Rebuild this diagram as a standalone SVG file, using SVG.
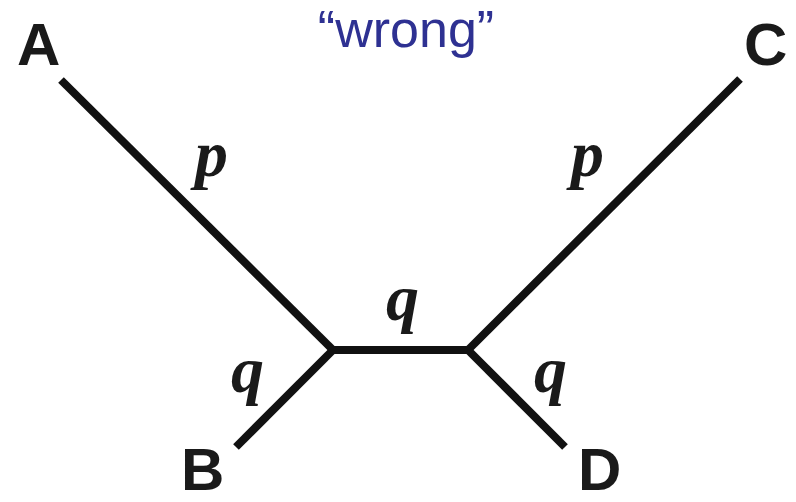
<svg xmlns="http://www.w3.org/2000/svg" width="796" height="502" viewBox="0 0 796 502">
<style>
.node{font-family:"Liberation Sans",Arial,sans-serif;font-weight:bold;font-size:60px;fill:#1a1a1a}
.lbl{font-family:"Liberation Serif","Times New Roman",serif;font-weight:bold;font-style:italic;font-size:66px;fill:#1a1a1a}
.edge{stroke:#111;stroke-width:8;fill:none;stroke-linecap:butt}
</style>
<rect width="796" height="502" fill="#fff"/>
<text x="406" y="47" text-anchor="middle" font-family="Liberation Sans,Arial,sans-serif" font-size="52" fill="#2e3192">“wrong”</text>
<g id="edges">
<line class="edge" x1="61" y1="80" x2="333" y2="350"/>
<line class="edge" x1="333" y1="350" x2="236" y2="447"/>
<line class="edge" x1="329" y1="350" x2="472" y2="350"/>
<line class="edge" x1="740" y1="79" x2="468" y2="350"/>
<line class="edge" x1="468" y1="350" x2="565" y2="447"/>
<text class="lbl" x="195" y="176">p</text>
<text class="lbl" x="571" y="176">p</text>
<text class="lbl" x="386" y="320">q</text>
<text class="lbl" x="231" y="392">q</text>
<text class="lbl" x="534" y="392">q</text>
</g>
<g id="A"><text class="node" x="17" y="65">A</text></g>
<g id="C"><text class="node" x="744" y="65">C</text></g>
<g id="B"><text class="node" x="181" y="490">B</text></g>
<g id="D"><text class="node" x="578" y="490">D</text></g>
</svg>
